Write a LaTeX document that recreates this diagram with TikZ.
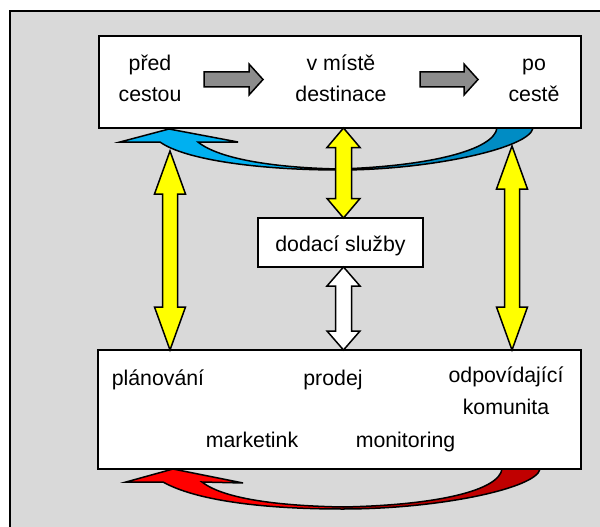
\documentclass[tikz,border=0pt]{standalone}
\usepackage{fontspec}
\setmainfont{Liberation Sans}
\usetikzlibrary{calc}
\definecolor{bg}{HTML}{D9D9D9}
\definecolor{lblue}{HTML}{00B0F0}
\definecolor{dblue}{HTML}{008CC4}
\definecolor{lred}{HTML}{FF0000}
\definecolor{dred}{HTML}{C00000}
\definecolor{garrow}{HTML}{8C8C8C}
\definecolor{yel}{HTML}{FFFF00}
% double vertical arrow: style, top tip, bottom tip, head length, shaft half width, head half width
\newcommand\dblarrow[6]{%
 \filldraw[#1] (#2) -- ($(#2)+(#6,#4)$) -- ($(#2)+(#5,#4)$) -- ($(#3)+(#5,-#4)$) -- ($(#3)+(#6,-#4)$) -- (#3)
   -- ($(#3)+(-#6,-#4)$) -- ($(#3)+(-#5,-#4)$) -- ($(#2)+(-#5,#4)$) -- ($(#2)+(-#6,#4)$) -- cycle;}
% right arrow: style, start, tip, head length, shaft half width, head half width
\newcommand\rgtarrow[6]{%
 \filldraw[#1] ($(#2)+(0,-#5)$) -- ($(#3)+(-#4,-#5)$) -- ($(#3)+(-#4,-#6)$) -- (#3) -- ($(#3)+(-#4,#6)$)
   -- ($(#3)+(-#4,#5)$) -- ($(#2)+(0,#5)$) -- cycle;}
\newcommand\bluepath[1]{\path[#1] (533,128) .. controls (530,148) and (430,170) .. (340,170)
  .. controls (260,170) and (185,160) .. (160,142) -- (120,142) -- (169,129) -- (238,142) -- (198,142)
  .. controls (220,160) and (280,168) .. (340,169) .. controls (430,166) and (494,150) .. (497,128) -- cycle;}
\newcommand\redpath[1]{\path[#1] (540,469) .. controls (537,488) and (440,509) .. (343,509)
  .. controls (260,509) and (195,500) .. (163,482) -- (126,482) -- (173,469) -- (243,483) -- (202,482)
  .. controls (225,500) and (285,506) .. (343,507) .. controls (440,505) and (499,490) .. (502,469) -- cycle;}
\begin{document}
\begin{tikzpicture}[x=1pt,y=-1pt,line join=miter,
  box/.style={draw=black,line width=2pt,fill=white,inner sep=0pt,outer sep=0pt},
  lbl/.style={font=\fontsize{21.3}{32}\selectfont,inner sep=0pt,anchor=base,align=center},
  arr/.style={draw=black,line width=1.5pt,line join=miter},
  yarr/.style={arr,fill=yel},
  warr/.style={arr,fill=white},
  garr/.style={arr,fill=garrow}]
\useasboundingbox (0,0) rectangle (600,527);
\fill[bg] (9,11) rectangle (600,527);
\draw[line width=2pt] (9.5,527) -- (9.5,11.5) -- (600,11.5);
% boxes
\node[box,minimum width=482pt,minimum height=92pt] (topbox) at (340,82) {};
\node[box,minimum width=483pt,minimum height=119pt] (botbox) at (339.5,409.5) {};
\node[box,minimum width=165pt,minimum height=49pt] (dodbox) at (340.5,242.5) {};
% curved arrows
\bluepath{fill=lblue}
\begin{scope}
  \clip (340,100) rectangle (600,200);
  \bluepath{fill=dblue}
\end{scope}
\bluepath{draw=black,line width=1.5pt}
\redpath{fill=lred}
\begin{scope}
  \clip (343,460) rectangle (600,527);
  \redpath{fill=dred}
\end{scope}
\redpath{draw=black,line width=1.5pt}
% gray arrows
\coordinate (g1a) at (204,79.5); \coordinate (g1b) at (263,79.5);
\coordinate (g2a) at (420,79.5); \coordinate (g2b) at (478,79.5);
\rgtarrow{garr}{g1a}{g1b}{14}{7.5}{15.5}
\rgtarrow{garr}{g2a}{g2b}{14}{7.5}{15.5}
% vertical double arrows
\coordinate (yl1) at (170,151); \coordinate (yl2) at (botbox.north -| yl1);
\coordinate (yr1) at (512,146); \coordinate (yr2) at (botbox.north -| yr1);
\coordinate (yc0) at (343.5,0);
\coordinate (yc1) at (topbox.south -| yc0); \coordinate (yc2) at (dodbox.north -| yc0);
\coordinate (wc1) at (dodbox.south -| yc0); \coordinate (wc2) at (botbox.north -| yc0);
\dblarrow{yarr}{yl1}{yl2}{43}{7.5}{15.5}
\dblarrow{yarr}{yr1}{yr2}{43}{7.5}{15.5}
\dblarrow{yarr}{yc1}{yc2}{19.5}{8}{16.5}
\dblarrow{warr}{wc1}{wc2}{19}{8}{16.5}
% texts (multi-line nodes: base = baseline of last line)
\node[lbl] (pred) at (150,102) {před\\cestou};
\node[lbl] (vmiste) at (341,102) {v místě\\destinace};
\node[lbl] (pocest) at (534,102) {po\\cestě};
\node[lbl] (dod) at (340.5,251.7) {dodací služby};
\node[lbl] (plan) at (158,385) {plánování};
\node[lbl] (prodej) at (333,385) {prodej};
\node[lbl] (odp) at (506,414) {odpovídající\\komunita};
\node[lbl] (mark) at (252,447) {marketink};
\node[lbl] (mon) at (405.5,447) {monitoring};
\end{tikzpicture}
\end{document}
